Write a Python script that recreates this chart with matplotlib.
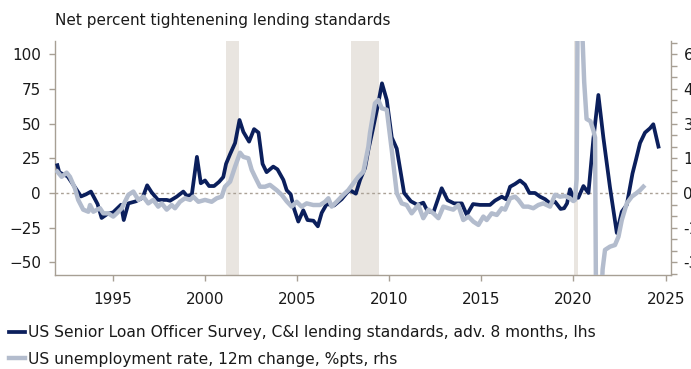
import matplotlib.pyplot as plt
from matplotlib.ticker import MultipleLocator, FormatStrFormatter

# SLOOS C&I net % tightening, shifted forward 8 months (lhs)
sloos_t = [1992.0, 1992.1, 1992.23, 1992.55, 1993.01, 1993.28, 1993.55, 1993.82, 1994.18, 1994.40,
           1994.72, 1995.02, 1995.45, 1995.60, 1995.85, 1996.26, 1996.62, 1996.87, 1997.11, 1997.46,
           1997.93, 1998.11, 1998.47, 1998.83, 1999.02, 1999.29, 1999.57, 1999.78, 2000.01, 2000.23,
           2000.50, 2000.77, 2001.00, 2001.15, 2001.37, 2001.64, 2001.88, 2002.09, 2002.40, 2002.67,
           2002.91, 2003.13, 2003.35, 2003.71, 2003.94, 2004.26, 2004.44, 2004.66, 2004.80, 2005.07,
           2005.34, 2005.57, 2005.89, 2006.13, 2006.34, 2006.61, 2007.01, 2007.42, 2007.70, 2007.88,
           2008.19, 2008.42, 2008.69, 2008.87, 2009.10, 2009.37, 2009.61, 2009.87, 2010.14, 2010.41,
           2010.81, 2011.18, 2011.54, 2011.85, 2012.08, 2012.40, 2012.85, 2013.17, 2013.52, 2013.94,
           2014.21, 2014.55, 2014.93, 2015.47, 2015.74, 2016.11, 2016.34, 2016.56, 2016.83, 2017.10,
           2017.37, 2017.61, 2017.91, 2018.19, 2018.46, 2018.73, 2019.00, 2019.30, 2019.49, 2019.65,
           2019.81, 2019.98, 2020.26, 2020.54, 2020.81, 2021.08, 2021.35, 2021.62, 2021.98, 2022.35,
           2022.62, 2022.89, 2023.20, 2023.39, 2023.61, 2023.88, 2024.15, 2024.33, 2024.61]
sloos_v = [20, 15, 14, 12, 3, -2.5, -1, 1, -8, -18,
           -15, -14, -8.5, -19.5, -7.5, -6, -3.5, 5.5, 0.5, -5,
           -5, -5.6, -2.7, 1, -2, -1.5, 26, 7, 9, 5,
           5, 8, 11.5, 21, 28, 36, 52.6, 44, 37, 46,
           43.5, 21, 15, 19, 17, 9.4, 2, -1, -9.8, -20.6,
           -12.5, -19.5, -20, -24, -14.3, -8, -9, -4.5, 0, 2,
           -0.5, 9.4, 18, 31, 45, 62, 79, 67, 40, 32,
           0, -6, -8.6, -7, -13, -14, 3.4, -5.2, -7.5, -7.5,
           -15.8, -8, -8.6, -8.6, -5.5, -2.7, -4.5, 4.5, 6.5, 9,
           6, 0, 0, -2.7, -4.5, -7.5, -6.3, -11.5, -11, -7.5,
           2.7, -2.7, -3.5, 5, 0, 39, 70.6, 40, 4, -28.8,
           -13.5, -8.6, 14, 24, 36, 43.5, 46.6, 49.5, 33.4]

# US unemployment rate, 12m change in %pts (rhs)
unemp_t = [1992.0, 1992.23, 1992.5, 1992.68, 1992.95, 1993.13, 1993.4, 1993.68, 1993.77, 1993.95,
           1994.31, 1994.49, 1994.76, 1995.03, 1995.22, 1995.49, 1995.85, 1996.12, 1996.39, 1996.66,
           1996.93, 1997.2, 1997.47, 1997.66, 1997.93, 1998.2, 1998.38, 1998.65, 1998.92, 1999.2,
           1999.37, 1999.65, 2000.01, 2000.37, 2000.64, 2000.91, 2001.09, 2001.37, 2001.64, 2001.91,
           2002.09, 2002.36, 2002.54, 2002.72, 2002.99, 2003.26, 2003.53, 2003.9, 2004.17, 2004.44,
           2004.71, 2004.98, 2005.25, 2005.52, 2005.88, 2006.25, 2006.52, 2006.7, 2006.88, 2007.15,
           2007.51, 2007.78, 2008.06, 2008.33, 2008.6, 2008.87, 2008.96, 2009.23, 2009.41, 2009.6,
           2009.87, 2010.14, 2010.41, 2010.68, 2010.95, 2011.22, 2011.58, 2011.85, 2012.13, 2012.4,
           2012.67, 2012.94, 2013.21, 2013.48, 2013.75, 2014.02, 2014.3, 2014.57, 2014.84, 2015.11,
           2015.29, 2015.56, 2015.84, 2016.11, 2016.29, 2016.56, 2016.83, 2017.01, 2017.28, 2017.55,
           2017.82, 2018.09, 2018.36, 2018.73, 2019.0, 2019.27, 2019.54, 2019.81, 2019.99, 2020.08,
           2020.17, 2020.25, 2020.33, 2020.42, 2020.5, 2020.58, 2020.71, 2020.92, 2021.08, 2021.17,
           2021.25, 2021.33, 2021.42, 2021.5, 2021.58, 2021.71, 2021.98, 2022.25, 2022.44, 2022.62,
           2022.89, 2023.16, 2023.43, 2023.61, 2023.79]
unemp_v = [0.92, 0.70, 0.88, 0.70, 0.20, -0.30, -0.72, -0.81, -0.52, -0.81,
           -0.66, -0.88, -0.88, -1.02, -0.88, -0.66, -0.08, 0.06, -0.30, -0.16,
           -0.45, -0.30, -0.59, -0.45, -0.72, -0.52, -0.66, -0.38, -0.23, -0.30,
           -0.16, -0.38, -0.30, -0.38, -0.23, -0.16, 0.27, 0.49, 1.14, 1.74,
           1.56, 1.50, 1.0, 0.70, 0.27, 0.27, 0.35, 0.12, -0.08, -0.36,
           -0.59, -0.38, -0.59, -0.45, -0.52, -0.52, -0.38, -0.23, -0.59, -0.38,
           -0.08, 0.12, 0.42, 0.70, 0.92, 2.0, 2.6, 3.88, 4.02, 3.66,
           3.6, 1.86, 0.0, -0.45, -0.52, -0.88, -0.52, -1.09, -0.72, -0.88,
           -1.09, -0.59, -0.66, -0.72, -0.52, -1.17, -1.02, -1.24, -1.38, -1.02,
           -1.17, -0.88, -0.95, -0.66, -0.72, -0.23, -0.16, -0.30, -0.59, -0.59,
           -0.66, -0.52, -0.45, -0.59, -0.08, -0.16, -0.13, -0.23, -0.35, -0.3,
           0.6, 11.1, 9.6, 7.4, 6.5, 4.8, 3.2, 3.1, 2.7, 2.4,
           -8.7, -7.4, -5.1, -4.8, -3.3, -2.46, -2.32, -2.25, -1.89, -1.17,
           -0.45, -0.16, 0.0, 0.12, 0.27]

recessions = [(2001.17, 2001.85), (2007.93, 2009.45), (2020.04, 2020.22)]

navy = '#0b1f5c'
grey_blue = '#b3bccd'
spine_c = '#a79f94'
txt_c = '#1a1a1a'

plt.rcParams['font.family'] = ['DejaVu Sans']
plt.rcParams['font.size'] = 11

fig = plt.figure(figsize=(6.91, 3.69), dpi=100)
ax = fig.add_axes([55 / 691, 94 / 369, 616 / 691, 234 / 369])
ax.set_xlim(1991.87, 2025.29)
ax.set_ylim(-59.1, 109.5)

for start, end in recessions:
    ax.axvspan(start, end, color='#e9e5e0', lw=0, zorder=0)
ax.axhline(0, color='#aaa196', lw=1, ls=(0, (2, 2)), zorder=1)

l1, = ax.plot(sloos_t, sloos_v, color=navy, lw=2.7, zorder=3,
              label='US Senior Loan Officer Survey, C&I lending standards, adv. 8 months, lhs')

ax2 = ax.twinx()
ax2.set_ylim(-59.1 * 0.06, 109.5 * 0.06)
l2, = ax2.plot(unemp_t, unemp_v, color=grey_blue, lw=3.2, zorder=2,
               label='US unemployment rate, 12m change, %pts, rhs')

ax.set_yticks([-50, -25, 0, 25, 50, 75, 100])
ax.set_xticks(range(1995, 2026, 5))
ax2.yaxis.set_major_locator(MultipleLocator(1.5))
ax2.yaxis.set_minor_locator(MultipleLocator(0.5))
ax2.yaxis.set_major_formatter(FormatStrFormatter('%.1f'))

for a in (ax, ax2):
    a.spines['top'].set_visible(False)
    for s in ('left', 'right', 'bottom'):
        a.spines[s].set_color(spine_c)
        a.spines[s].set_linewidth(1)
    a.tick_params(which='both', length=4, width=1, color=spine_c, labelcolor=txt_c)
ax.spines['right'].set_visible(False)
ax2.spines['left'].set_visible(False)
ax2.spines['bottom'].set_visible(False)
ax.tick_params(axis='x', pad=8)
ax.tick_params(axis='y', pad=6)
ax2.tick_params(axis='y', which='both', pad=5)

fig.text(55 / 691, 1 - 20 / 369, 'Net percent tightenening lending standards',
         ha='left', va='center', color=txt_c, fontsize=11)

fig.legend(handles=[l1, l2], loc='upper left', bbox_to_anchor=(9 / 691, 1 - 325 / 369),
           frameon=False, fontsize=11.2, handlelength=1.0, handletextpad=0.25,
           labelspacing=0.75, borderpad=0, borderaxespad=0, labelcolor=txt_c)

fig.savefig('out.png', dpi=100)
